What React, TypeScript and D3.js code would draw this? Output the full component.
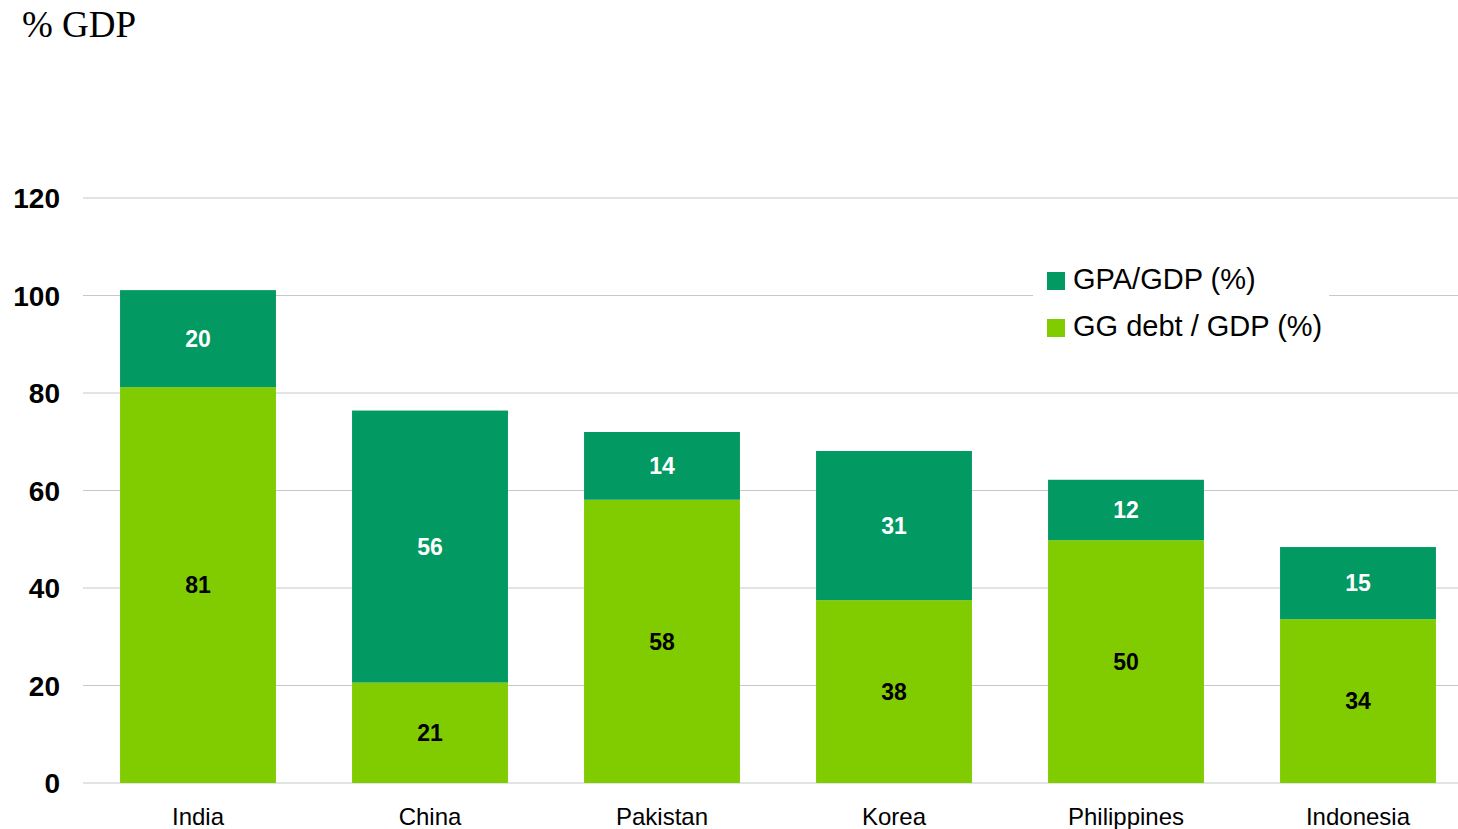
import React from "react";
import * as d3 from "d3";

const categories = ["India", "China", "Pakistan", "Korea", "Philippines", "Indonesia"];
const ggDebt = [81.2, 20.6, 58.1, 37.5, 49.8, 33.6];
const gpa = [19.9, 55.8, 13.9, 30.6, 12.4, 14.8];
const yTicks = [0, 20, 40, 60, 80, 100, 120];
const seriesNames = ["GPA/GDP (%)", "GG debt / GDP (%)"];
const colors = { gpa: "#029962", debt: "#80CC00" };

export default function App() {
  const W = 1458, H = 829;
  const x = d3.scaleBand<string>().domain(categories).range([82, 1474]).paddingInner(0.328).paddingOuter(0.164);
  const y = d3.scaleLinear().domain([0, 120]).range([783, 198]);
  const fmt = d3.format(".0f");
  const sans = "'Liberation Sans', Arial, sans-serif";
  return (
    <svg width={W} height={H} style={{ position: "absolute", left: 0, top: 0, background: "#fff" }}>
      <text x={22} y={37} fontFamily="'Liberation Serif', 'Times New Roman', serif" fontSize={37} fill="#000">% GDP</text>
      {yTicks.map((t) => (
        <g key={t}>
          <line x1={83} x2={1458} y1={y(t)} y2={y(t)} stroke="#c8c8c8" strokeWidth={1} />
          <text x={60} y={y(t)} dy="0.36em" textAnchor="end" fontFamily={sans} fontWeight="bold" fontSize={28} fill="#000">{t}</text>
        </g>
      ))}
      {categories.map((c, i) => {
        const x0 = x(c)!;
        const bw = x.bandwidth();
        const d = ggDebt[i], g = gpa[i];
        return (
          <g key={c}>
            <rect x={x0} width={bw} y={y(d)} height={y(0) - y(d)} fill={colors.debt} />
            <rect x={x0} width={bw} y={y(d + g)} height={y(d) - y(d + g)} fill={colors.gpa} />
            <text x={x0 + bw / 2} y={(y(0) + y(d)) / 2} dy="0.36em" textAnchor="middle" fontFamily={sans} fontWeight="bold" fontSize={23} fill="#000">{fmt(d)}</text>
            <text x={x0 + bw / 2} y={(y(d) + y(d + g)) / 2} dy="0.36em" textAnchor="middle" fontFamily={sans} fontWeight="bold" fontSize={23} fill="#fff">{fmt(g)}</text>
            <text x={x0 + bw / 2} y={825} textAnchor="middle" fontFamily={sans} fontSize={24} fill="#000">{c}</text>
          </g>
        );
      })}
      <g>
        <rect x={1033} y={262} width={296} height={88} fill="#fff" />
        <rect x={1047} y={272} width={18} height={18} fill={colors.gpa} />
        <text x={1073} y={289} fontFamily={sans} fontSize={29} fill="#000">{seriesNames[0]}</text>
        <rect x={1047} y={319} width={18} height={18} fill={colors.debt} />
        <text x={1073} y={336} fontFamily={sans} fontSize={29} fill="#000">{seriesNames[1]}</text>
      </g>
    </svg>
  );
}
